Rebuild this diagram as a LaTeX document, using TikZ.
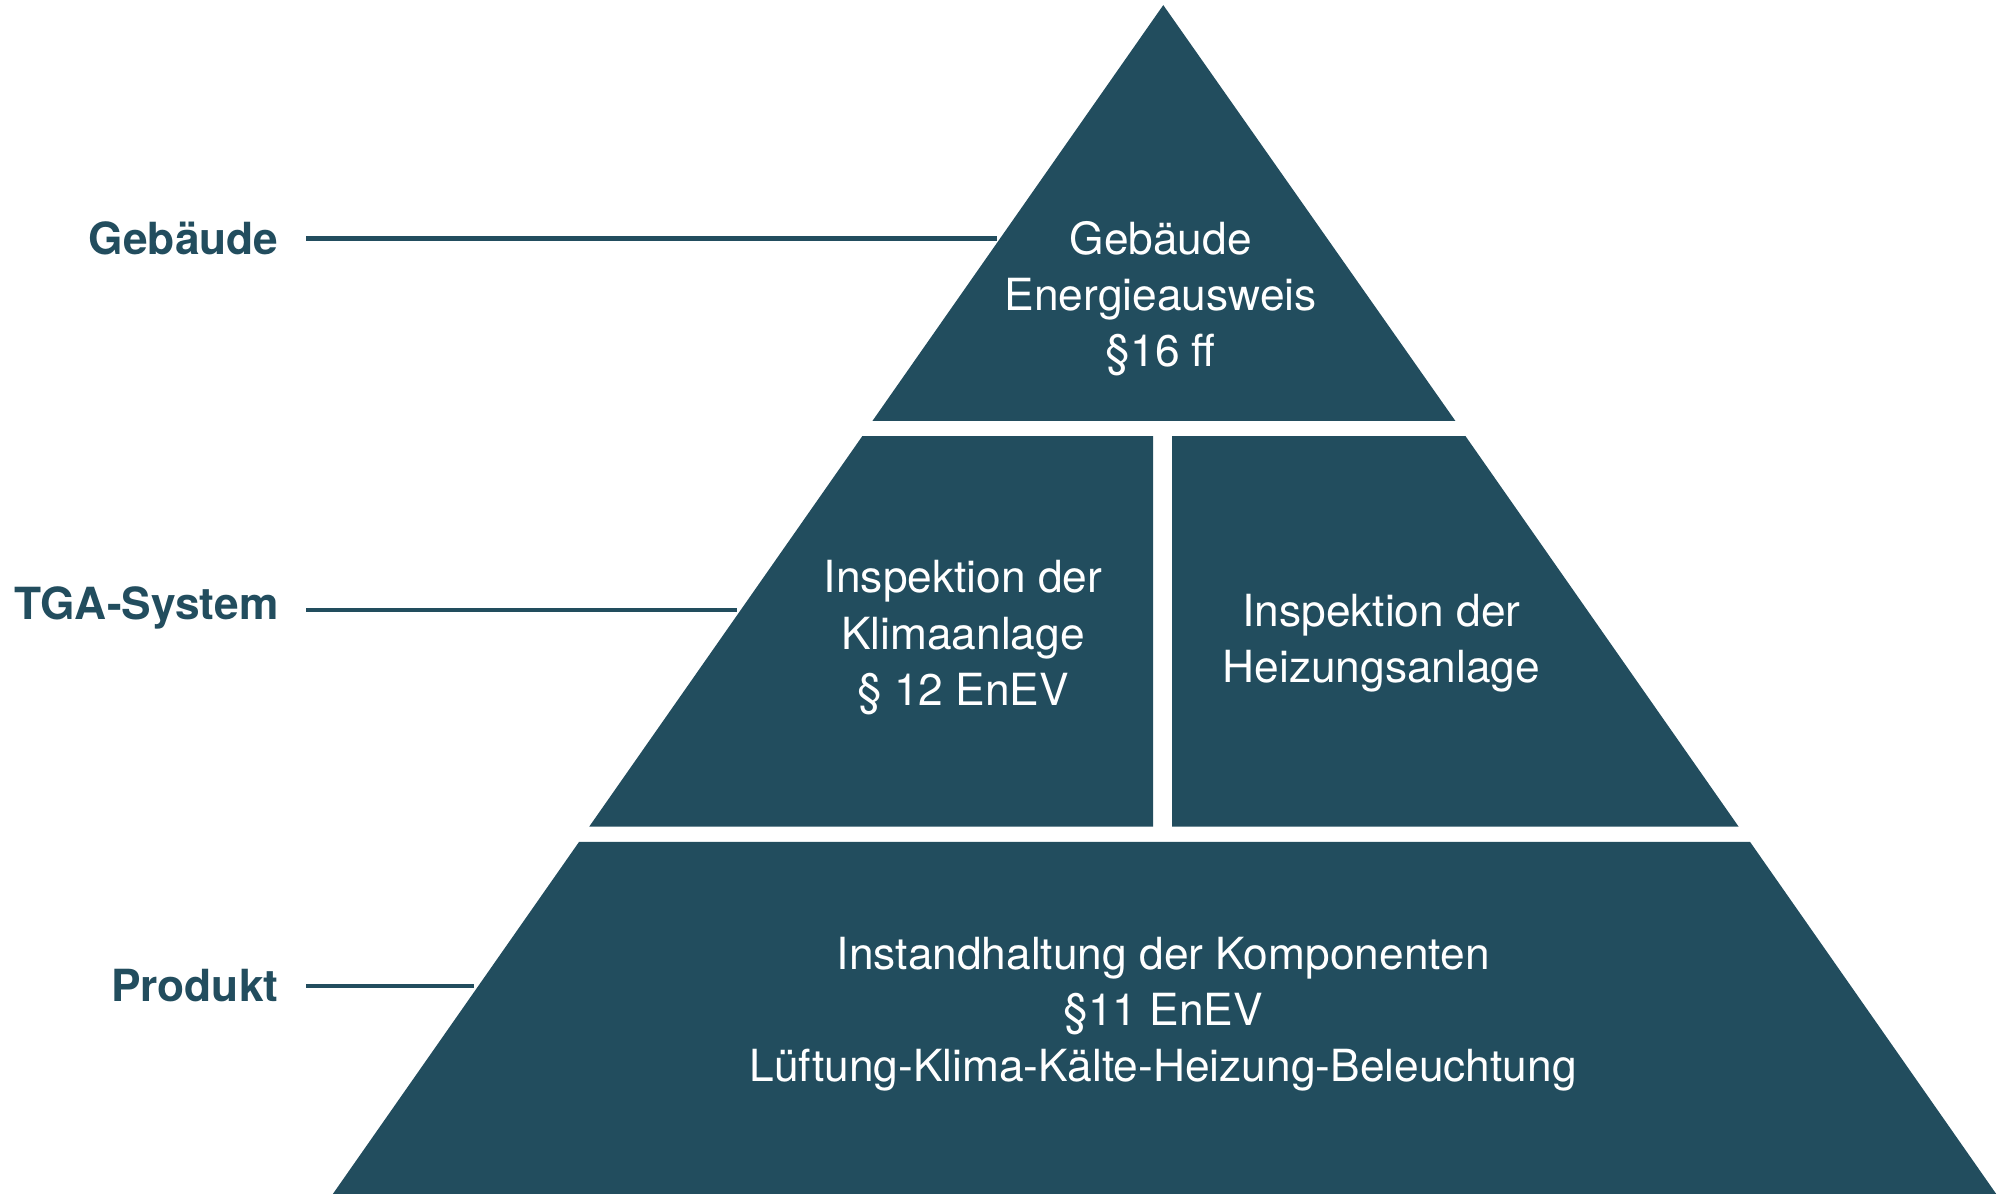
\documentclass[tikz,border=0pt]{standalone}
\usepackage{fontspec}
\setmainfont{TeX Gyre Heros}
\begin{document}
\begin{tikzpicture}[x=0.012755cm,y=-0.012755cm,
  band/.style={fill=pyr,draw=none},
  txt/.style={text=white,font=\fontsize{12.6}{16}\selectfont,align=center},
  lab/.style={text=pyr,font=\bfseries\fontsize{12.6}{16}\selectfont,anchor=east},
  lead/.style={draw=pyr,line width=1.2pt}]
\definecolor{pyr}{HTML}{224D5E}
\useasboundingbox (0,0) rectangle (1568,938);
\fill[band] (912,4) -- (1141,330) -- (684,330) -- cycle;
\fill[band] (676,342) -- (904,342) -- (904,648) -- (462,648) -- cycle;
\fill[band] (919,342) -- (1149,342) -- (1363,648) -- (919,648) -- cycle;
\fill[band] (454,660) -- (1372,660) -- (1565,936) -- (261,936) -- cycle;
\node[txt] (t1) at (910,234) {Gebäude\\Energieausweis\\§16 ff};
\node[txt] (t2) at (755,500) {Inspektion der\\Klimaanlage\\§ 12 EnEV};
\node[txt] (t3) at (1083,504) {Inspektion der\\Heizungsanlage};
\node[txt] (t4) at (912,795) {Instandhaltung der Komponenten\\§11 EnEV\\Lüftung-Klima-Kälte-Heizung-Beleuchtung};
\node[lab] (l1) at (228,187) {Gebäude};
\node[lab] (l2) at (228,477) {TGA-System};
\node[lab] (l3) at (228,773) {Produkt};
\coordinate (e1) at (782,187);
\coordinate (e2) at (578,478);
\coordinate (e3) at (372,773);
\draw[lead] (240,187) -- (e1);
\draw[lead] (240,478) -- (e2);
\draw[lead] (240,773) -- (e3);
\end{tikzpicture}
\end{document}
